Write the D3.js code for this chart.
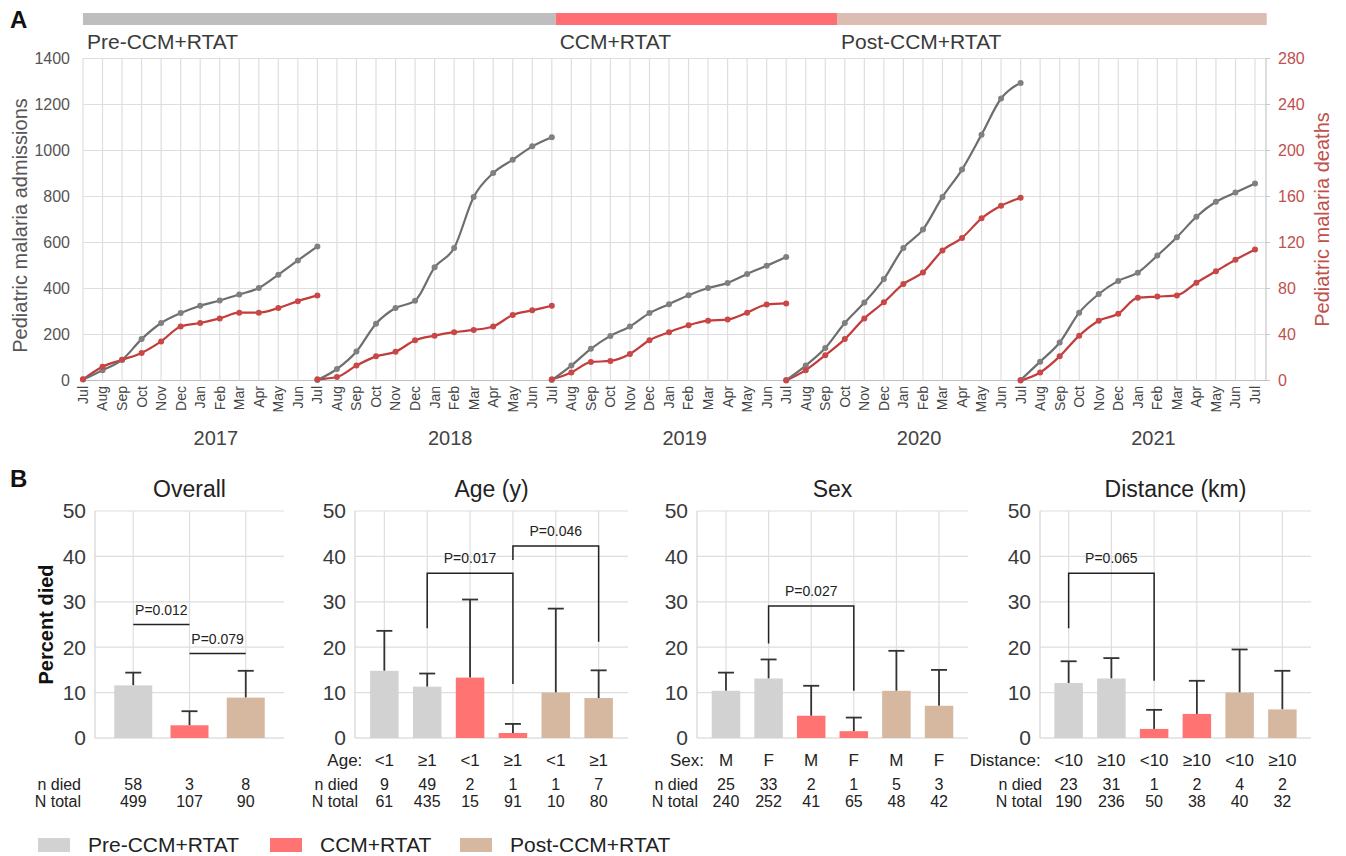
<!DOCTYPE html>
<html>
<head>
<meta charset="utf-8">
<script src="https://cdn.jsdelivr.net/npm/d3@7"></script>
<style>
  body { margin: 0; background: #fff; font-family: "Liberation Sans", Arial, sans-serif; }
  svg text { font-family: "Liberation Sans", Arial, sans-serif; }
</style>
</head>
<body>
<svg id="chart" width="1346" height="856"></svg>
<script>
// ---- data: panel A (cumulative by month, Jul..Jul per year) ----
const months = ["Jul","Aug","Sep","Oct","Nov","Dec","Jan","Feb","Mar","Apr","May","Jun"];
const years = ["2017","2018","2019","2020","2021"];
const admissions = [
  [4, 45, 90, 180, 250, 293, 325, 348, 374, 402, 460, 522, 583],
  [2, 50, 126, 247, 315, 347, 492, 576, 798, 902, 960, 1018, 1058],
  [2, 65, 138, 194, 235, 293, 332, 371, 402, 424, 463, 499, 537],
  [2, 65, 141, 250, 339, 441, 576, 656, 798, 917, 1069, 1226, 1294],
  [2, 82, 165, 295, 376, 433, 469, 543, 623, 712, 777, 817, 857]
];
const deaths = [
  [1, 12, 18, 24, 34, 47, 50, 54, 59, 59, 63, 69, 74],
  [1, 3, 13, 21, 25, 35, 39, 42, 44, 47, 57, 61, 65],
  [1, 7, 16, 17, 23, 35, 42, 48, 52, 53, 59, 66, 67],
  [0, 9, 22, 36, 54, 68, 84, 94, 113, 124, 141, 152, 159],
  [0, 7, 21, 39, 52, 58, 72, 73, 74, 85, 95, 105, 114]
];
const periods = ["Pre-CCM+RTAT", "CCM+RTAT", "Post-CCM+RTAT"];
const periodStart = [0, 24.2, 38.6];   // in months from Jul 2017
const periodEnd = [24.2, 38.6, 60.6];
const admTicks = [0, 200, 400, 600, 800, 1000, 1200, 1400];
const deathTicks = [0, 40, 80, 120, 160, 200, 240, 280];

// ---- data: panel B ----
const overallCats = ["", "", ""];
const overallPct = [11.6, 2.8, 8.9];
const overallErr = [14.4, 5.9, 14.8];
const overallDied = [58, 3, 8];
const overallTotal = [499, 107, 90];

const ageCats = ["<1", "≥1", "<1", "≥1", "<1", "≥1"];
const agePct = [14.8, 11.3, 13.3, 1.1, 10.0, 8.8];
const ageErr = [23.6, 14.2, 30.5, 3.1, 28.5, 14.9];
const ageDied = [9, 49, 2, 1, 1, 7];
const ageTotal = [61, 435, 15, 91, 10, 80];

const sexCats = ["M", "F", "M", "F", "M", "F"];
const sexPct = [10.4, 13.1, 4.9, 1.5, 10.4, 7.1];
const sexErr = [14.4, 17.3, 11.5, 4.5, 19.2, 15.0];
const sexDied = [25, 33, 2, 1, 5, 3];
const sexTotal = [240, 252, 41, 65, 48, 42];

const distCats = ["<10", "≥10", "<10", "≥10", "<10", "≥10"];
const distPct = [12.1, 13.1, 2.0, 5.3, 10.0, 6.3];
const distErr = [16.9, 17.6, 6.2, 12.6, 19.5, 14.8];
const distDied = [23, 31, 1, 2, 4, 2];
const distTotal = [190, 236, 50, 38, 40, 32];

const pctTicks = [0, 10, 20, 30, 40, 50];

// ---- styles ----
const periodColors = ["#d2d2d2", "#ff7373", "#d6b8a1"];
const bandColors = ["#bebebe", "#ff6e73", "#dcbdb2"];
const admColor = "#6e6e6e";
const deathColor = "#c23c3c";
const deathText = "#c0504d";
const gridColor = "#dedede";
const textColor = "#3a3a3a";

const svg = d3.select("#chart");

// ================= Panel A =================
const x = d3.scaleLinear().domain([0, 60]).range([83, 1255]);
const plotRight = 1266;
const yA = d3.scaleLinear().domain([0, 1400]).range([380.5, 58.5]);
const yD = d3.scaleLinear().domain([0, 280]).range([380.5, 58.5]);

svg.append("text").attr("x", 10).attr("y", 28).text("A")
  .style("font-size", "24px").style("font-weight", "bold").attr("fill", "#111");

// period band
const band = svg.append("g");
periods.forEach(function (p, i) {
  band.append("rect")
    .attr("x", x(periodStart[i])).attr("y", 13)
    .attr("width", x(periodEnd[i]) - x(periodStart[i])).attr("height", 12)
    .attr("fill", bandColors[i]);
  band.append("text")
    .attr("x", x(periodStart[i]) + 4).attr("y", 49)
    .text(p).style("font-size", "21px").attr("fill", textColor);
});

// grid
const gA = svg.append("g");
gA.selectAll(".hgrid").data(admTicks).enter().append("line")
  .attr("x1", x(0)).attr("x2", plotRight)
  .attr("y1", d => yA(d)).attr("y2", d => yA(d))
  .attr("stroke", d => d === 0 ? "#bdbdbd" : gridColor).attr("stroke-width", 1.2);
gA.selectAll(".vgrid").data(d3.range(61)).enter().append("line")
  .attr("x1", d => x(d)).attr("x2", d => x(d))
  .attr("y1", yA(1400)).attr("y2", yA(0))
  .attr("stroke", gridColor).attr("stroke-width", 1.2);
gA.append("line").attr("x1", plotRight).attr("x2", plotRight)
  .attr("y1", yA(1400)).attr("y2", yA(0)).attr("stroke", "#c8c8c8").attr("stroke-width", 1.2);

// left axis labels
gA.selectAll(".ltick").data(admTicks).enter().append("text")
  .attr("x", 70).attr("y", d => yA(d)).attr("dy", "0.35em")
  .attr("text-anchor", "end").text(d => d)
  .style("font-size", "16px").attr("fill", "#555");
// right axis ticks + labels
gA.selectAll(".rtickm").data(deathTicks).enter().append("line")
  .attr("x1", plotRight).attr("x2", plotRight + 4)
  .attr("y1", d => yD(d)).attr("y2", d => yD(d)).attr("stroke", "#c8c8c8");
gA.selectAll(".rtick").data(deathTicks).enter().append("text")
  .attr("x", 1278).attr("y", d => yD(d)).attr("dy", "0.35em")
  .text(d => d).style("font-size", "16px").attr("fill", deathText);

// axis titles
svg.append("text")
  .attr("transform", "translate(27," + (yA(700) + 6) + ") rotate(-90)")
  .attr("text-anchor", "middle").text("Pediatric malaria admissions")
  .style("font-size", "20px").attr("fill", "#555");
svg.append("text")
  .attr("transform", "translate(1329," + (yD(140)) + ") rotate(-90)")
  .attr("text-anchor", "middle").text("Pediatric malaria deaths")
  .style("font-size", "20px").attr("fill", deathText);

// month labels
gA.selectAll(".mlab").data(d3.range(61)).enter().append("text")
  .attr("transform", d => "translate(" + x(d) + ",386) rotate(-90)")
  .attr("text-anchor", "end").attr("dy", "0.35em")
  .text(d => months[d % 12])
  .style("font-size", "14px").attr("fill", "#444");
// year labels
gA.selectAll(".ylab").data(years).enter().append("text")
  .attr("x", (d, i) => x(i * 12 + 6.8)).attr("y", 445)
  .attr("text-anchor", "middle").text(d => d)
  .style("font-size", "20px").attr("fill", "#444");

// lines
const lineA = d3.line().x(d => x(d.i)).y(d => yA(d.v)).curve(d3.curveMonotoneX);
const lineD = d3.line().x(d => x(d.i)).y(d => yD(d.v)).curve(d3.curveMonotoneX);
years.forEach(function (yr, k) {
  const adm = admissions[k].map((v, j) => ({ i: k * 12 + j, v: v }));
  const dth = deaths[k].map((v, j) => ({ i: k * 12 + j, v: v }));
  gA.append("path").attr("d", lineD(dth)).attr("fill", "none")
    .attr("stroke", deathColor).attr("stroke-width", 2.2);
  gA.append("path").attr("d", lineA(adm)).attr("fill", "none")
    .attr("stroke", admColor).attr("stroke-width", 2.2);
  gA.selectAll(".pa" + k).data(adm).enter().append("circle")
    .attr("cx", d => x(d.i)).attr("cy", d => yA(d.v)).attr("r", 3)
    .attr("fill", "#808080");
  gA.selectAll(".pd" + k).data(dth).enter().append("circle")
    .attr("cx", d => x(d.i)).attr("cy", d => yD(d.v)).attr("r", 3)
    .attr("fill", "#c84848");
});

// ================= Panel B =================
svg.append("text").attr("x", 10).attr("y", 487).text("B")
  .style("font-size", "24px").style("font-weight", "bold").attr("fill", "#111");

const yB = d3.scaleLinear().domain([0, 50]).range([738, 511]);

svg.append("text")
  .attr("transform", "translate(53," + yB(25) + ") rotate(-90)")
  .attr("text-anchor", "middle").text("Percent died")
  .style("font-size", "20px").style("font-weight", "bold").attr("fill", "#111");

const panels = [
  { title: "Overall", x0: 95, x1: 284, pad: 0.68, bw: 38, rowX: 81, catGap: 22,
    catLabel: null, cats: overallCats, pct: overallPct, err: overallErr,
    died: overallDied, total: overallTotal, period: [0, 1, 2],
    brackets: [
      { a: 0, b: 1, ya: 25, yb: 25, top: 25, label: "P=0.012" },
      { a: 1, b: 2, ya: 18.6, yb: 18.6, top: 18.6, label: "P=0.079" }
    ] },
  { title: "Age (y)", x0: 355, x1: 628, pad: 0.685, bw: 28.5, rowX: 358, catGap: 22,
    catLabel: "Age:", cats: ageCats, pct: agePct, err: ageErr,
    died: ageDied, total: ageTotal, period: [0, 0, 1, 1, 2, 2],
    brackets: [
      { a: 1, b: 3, ya: 24.2, yb: 11.9, top: 36.3, label: "P=0.017" },
      { a: 3, b: 5, ya: 39.2, yb: 21.2, top: 42.3, label: "P=0.046" }
    ] },
  { title: "Sex", x0: 697, x1: 968, pad: 0.68, bw: 28.5, rowX: 698, catGap: 22,
    catLabel: "Sex:", cats: sexCats, pct: sexPct, err: sexErr,
    died: sexDied, total: sexTotal, period: [0, 0, 1, 1, 2, 2],
    brackets: [
      { a: 1, b: 3, ya: 20.8, yb: 10.4, top: 29.1, label: "P=0.027" }
    ] },
  { title: "Distance (km)", x0: 1040, x1: 1311, pad: 0.67, bw: 28.5, rowX: 1042, catGap: 28,
    catLabel: "Distance:", cats: distCats, pct: distPct, err: distErr,
    died: distDied, total: distTotal, period: [0, 0, 1, 1, 2, 2],
    brackets: [
      { a: 0, b: 2, ya: 24.2, yb: 12.6, top: 36.3, label: "P=0.065" }
    ] }
];

function drawPanel(p) {
  const g = svg.append("g");
  const idx = d3.range(p.pct.length);
  const xb = d3.scalePoint().domain(idx).range([p.x0, p.x1]).padding(p.pad);

  // grid
  g.selectAll(".h").data(pctTicks).enter().append("line")
    .attr("x1", p.x0).attr("x2", p.x1)
    .attr("y1", d => yB(d)).attr("y2", d => yB(d))
    .attr("stroke", d => d === 0 ? "#cfcfcf" : gridColor).attr("stroke-width", 1.2);
  g.selectAll(".v").data(idx).enter().append("line")
    .attr("x1", d => xb(d)).attr("x2", d => xb(d))
    .attr("y1", yB(50)).attr("y2", yB(0))
    .attr("stroke", gridColor).attr("stroke-width", 1.2);
  g.append("line").attr("x1", p.x0).attr("x2", p.x0)
    .attr("y1", yB(50)).attr("y2", yB(0)).attr("stroke", "#d4d4d4").attr("stroke-width", 1.2);

  // y tick labels
  g.selectAll(".yt").data(pctTicks).enter().append("text")
    .attr("x", p.x0 - 9).attr("y", d => yB(d)).attr("dy", "0.35em")
    .attr("text-anchor", "end").text(d => d)
    .style("font-size", "21px").attr("fill", textColor);

  // title
  g.append("text").attr("x", (p.x0 + p.x1) / 2).attr("y", 497)
    .attr("text-anchor", "middle").text(p.title)
    .style("font-size", "23px").attr("fill", "#222");

  // error bars (behind bars)
  g.selectAll(".eb").data(idx).enter().append("line")
    .attr("x1", d => xb(d)).attr("x2", d => xb(d))
    .attr("y1", d => yB(p.pct[d])).attr("y2", d => yB(p.err[d]))
    .attr("stroke", "#333").attr("stroke-width", 1.8);
  g.selectAll(".ec").data(idx).enter().append("line")
    .attr("x1", d => xb(d) - 8).attr("x2", d => xb(d) + 8)
    .attr("y1", d => yB(p.err[d])).attr("y2", d => yB(p.err[d]))
    .attr("stroke", "#333").attr("stroke-width", 1.8);

  // bars
  g.selectAll(".bar").data(idx).enter().append("rect")
    .attr("x", d => xb(d) - p.bw / 2).attr("width", p.bw)
    .attr("y", d => yB(p.pct[d])).attr("height", d => yB(0) - yB(p.pct[d]))
    .attr("fill", d => periodColors[p.period[d]]);

  // brackets
  p.brackets.forEach(function (b) {
    const pts = [[xb(b.a), yB(b.ya)], [xb(b.a), yB(b.top)], [xb(b.b), yB(b.top)], [xb(b.b), yB(b.yb)]];
    g.append("path").attr("d", d3.line()(pts)).attr("fill", "none")
      .attr("stroke", "#222").attr("stroke-width", 1.5);
    g.append("text").attr("x", (xb(b.a) + xb(b.b)) / 2).attr("y", yB(b.top) - 10)
      .attr("text-anchor", "middle").text(b.label)
      .style("font-size", "14px").attr("fill", "#222");
  });

  // category labels
  if (p.catLabel) {
    g.append("text").attr("x", xb(0) - p.catGap).attr("y", 766)
      .attr("text-anchor", "end").text(p.catLabel)
      .style("font-size", "17px").attr("fill", "#222");
    g.selectAll(".cat").data(idx).enter().append("text")
      .attr("x", d => xb(d)).attr("y", 766).attr("text-anchor", "middle")
      .text(d => p.cats[d]).style("font-size", "17px").attr("fill", "#222");
  }

  // n died / N total rows
  g.append("text").attr("x", p.rowX).attr("y", 790).attr("text-anchor", "end")
    .text("n died").style("font-size", "16px").attr("fill", "#222");
  g.append("text").attr("x", p.rowX).attr("y", 807).attr("text-anchor", "end")
    .text("N total").style("font-size", "16px").attr("fill", "#222");
  g.selectAll(".nd").data(idx).enter().append("text")
    .attr("x", d => xb(d)).attr("y", 790).attr("text-anchor", "middle")
    .text(d => p.died[d]).style("font-size", "16px").attr("fill", "#222");
  g.selectAll(".nt").data(idx).enter().append("text")
    .attr("x", d => xb(d)).attr("y", 807).attr("text-anchor", "middle")
    .text(d => p.total[d]).style("font-size", "16px").attr("fill", "#222");
}
panels.forEach(drawPanel);

// legend
const legX = [38, 270, 460];
const leg = svg.append("g");
periods.forEach(function (p, i) {
  leg.append("rect").attr("x", legX[i]).attr("y", 838).attr("width", 32).attr("height", 14)
    .attr("fill", periodColors[i]);
  leg.append("text").attr("x", legX[i] + 50).attr("y", 852).text(p)
    .style("font-size", "21px").attr("fill", "#222");
});
</script>
</body>
</html>
